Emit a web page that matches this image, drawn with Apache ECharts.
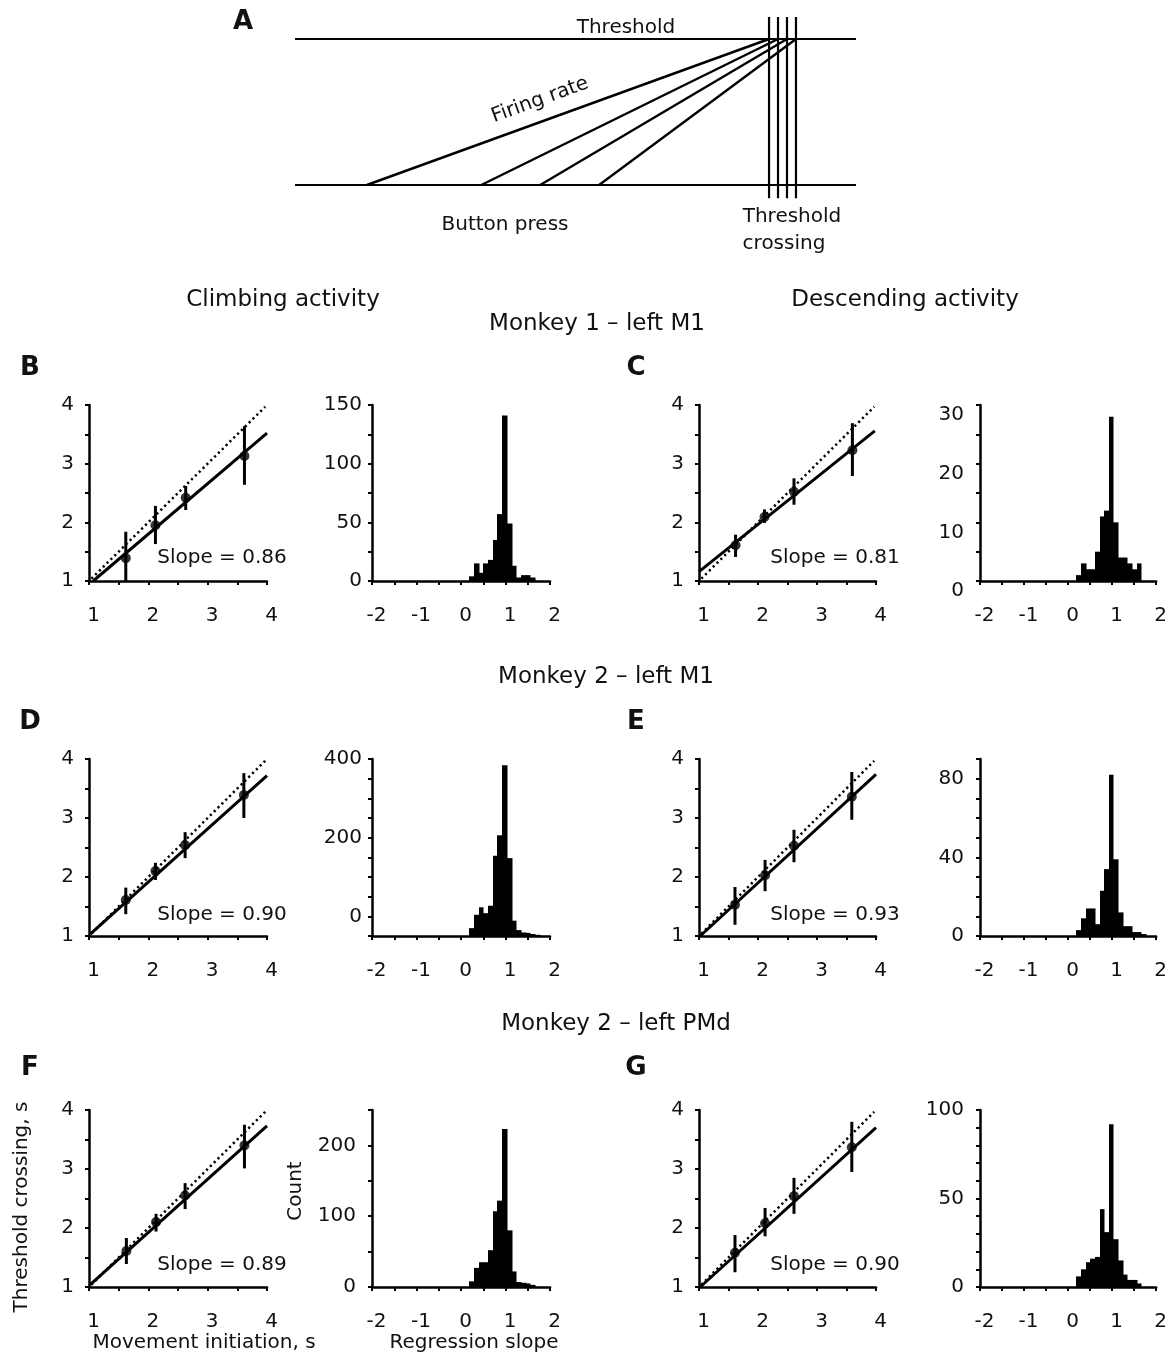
<!DOCTYPE html>
<html><head><meta charset="utf-8">
<script src="https://cdn.jsdelivr.net/npm/echarts@6/dist/echarts.min.js"></script>
<style>html,body{margin:0;padding:0;background:#fff}#chart{width:1170px;height:1355px}</style>
</head><body><div id="chart"></div>
<script>
// ---------- Panel A schematic (x: arbitrary time 0..100, y: 0 = baseline, 1 = threshold)
const schemaStartX = [12.8, 33.2, 43.7, 54.2];   // button-press onsets on baseline
const schemaCrossX = [84.5, 86.1, 87.7, 89.3];   // threshold crossings

// ---------- Scatter panels: threshold crossing (s) vs movement initiation (s)
const identityEnds = [1.04, 3.97];
const bMeanX = [1.62, 2.12, 2.63, 3.62], bMeanY = [1.39, 1.95, 2.42, 3.13];
const bErrLo = [1.00, 1.63, 2.21, 2.64], bErrHi = [1.84, 2.28, 2.62, 3.64];
const bFitX = [1.07, 4.0], bFitY = [1.00, 3.52];
const cMeanX = [1.62, 2.11, 2.61, 3.60], cMeanY = [1.61, 2.09, 2.52, 3.23];
const cErrLo = [1.41, 1.99, 2.30, 2.79], cErrHi = [1.79, 2.22, 2.75, 3.69];
const cFitX = [1.0, 3.98], cFitY = [1.16, 3.56];
const dMeanX = [1.62, 2.12, 2.62, 3.61], dMeanY = [1.61, 2.10, 2.54, 3.39];
const dErrLo = [1.37, 1.95, 2.32, 3.00], dErrHi = [1.82, 2.24, 2.76, 3.76];
const dFitX = [1.02, 4.0], dFitY = [1.03, 3.72];
const eMeanX = [1.61, 2.12, 2.61, 3.59], eMeanY = [1.53, 2.03, 2.53, 3.36];
const eErrLo = [1.19, 1.76, 2.25, 2.97], eErrHi = [1.83, 2.29, 2.80, 3.78];
const eFitX = [1.02, 4.0], eFitY = [1.00, 3.74];
const fMeanX = [1.63, 2.13, 2.62, 3.62], fMeanY = [1.61, 2.10, 2.55, 3.40];
const fErrLo = [1.39, 1.94, 2.32, 3.01], fErrHi = [1.83, 2.24, 2.76, 3.75];
const fFitX = [1.02, 4.0], fFitY = [1.04, 3.73];
const gMeanX = [1.61, 2.12, 2.61, 3.59], gMeanY = [1.58, 2.08, 2.54, 3.37];
const gErrLo = [1.25, 1.86, 2.24, 2.95], gErrHi = [1.88, 2.34, 2.85, 3.80];
const gFitX = [1.02, 4.0], gFitY = [1.00, 3.70];
const slopeLabels = ['0.86', '0.81', '0.90', '0.93', '0.89', '0.90'];

// ---------- Histograms of regression slopes (bin left edges)
const binStart = [0.19, 0.295, 0.40, 0.505, 0.61, 0.715, 0.82, 0.925, 1.03, 1.135, 1.24, 1.345, 1.45, 1.555, 1.66];
const binWidth = 0.105;
const bCounts = [4, 15, 7, 15, 18, 35, 57, 141, 49, 13, 3, 5, 5, 3, 0];
const cCounts = [1, 3, 2, 2, 5, 11, 12, 28, 10, 4, 4, 3, 2, 3, 0];
// panel D: bar heights above the drawn baseline (the original's count labels sit one tick (50) higher)
const dHeights = [20, 54, 73, 58, 77, 204, 256, 434, 198, 39, 15, 9, 8, 5, 3];
const dLabelOffset = 50;
const eCounts = [3, 9, 14, 14, 6, 23, 34, 82, 39, 12, 5, 5, 2, 2, 1];
const fCounts = [8, 27, 35, 35, 52, 107, 122, 223, 80, 22, 7, 6, 5, 3, 0];
const gCounts = [6, 10, 14, 16, 17, 44, 31, 92, 27, 15, 7, 4, 4, 2, 0];

const FONT = 'DejaVu Sans';
const BLACK = '#000';

const grids = [], xAxes = [], yAxes = [], series = [];

// ---- Panel A grid
grids.push({left: 295, top: 9.8, width: 561, height: 204.4});
xAxes.push({gridIndex: 0, type: 'value', show: false, min: 0, max: 100});
yAxes.push({gridIndex: 0, type: 'value', show: false, min: -0.2, max: 1.2});
function seg(gi, p, q, w) {
  series.push({type: 'line', xAxisIndex: gi, yAxisIndex: gi, data: [p, q], symbol: 'none',
    lineStyle: {color: BLACK, width: w || 2.2}, silent: true, clip: false});
}
seg(0, [0, 1], [100, 1]);
seg(0, [0, 0], [100, 0]);
schemaCrossX.forEach(x => seg(0, [x, -0.09], [x, 1.15]));
schemaStartX.forEach((x, i) => seg(0, [x, 0], [schemaCrossX[i], 1], 2.4));

function axisLine() { return {show: true, onZero: false, lineStyle: {color: BLACK, width: 2.5}}; }
function axisTick() { return {show: true, length: 4, lineStyle: {color: BLACK, width: 2}}; }
const intOnly = v => (Math.abs(v - Math.round(v)) < 1e-9 ? String(Math.round(v)) : '');

const rowTop = [405, 759, 1110];
const rowH = [176, 177, 177];
const colScatter = [{left: 89, width: 178}, {left: 699, width: 177}];
const colHist = [{left: 372, width: 178}, {left: 980, width: 179}];

function addScatter(row, col, mx, my, lo, hi, fx, fy) {
  const gi = grids.length;
  grids.push({left: colScatter[col].left, top: rowTop[row], width: colScatter[col].width, height: rowH[row]});
  const lab = {color: '#111', fontSize: 20, fontFamily: FONT, formatter: intOnly};
  xAxes.push({gridIndex: gi, type: 'value', min: 1, max: 4, interval: 0.5, axisLine: axisLine(), axisTick: axisTick(),
    splitLine: {show: false}, axisLabel: Object.assign({margin: 25, padding: [0, 0, 0, 9]}, lab)});
  yAxes.push({gridIndex: gi, type: 'value', min: 1, max: 4, interval: 0.5, axisLine: axisLine(), axisTick: axisTick(),
    splitLine: {show: false}, axisLabel: Object.assign({margin: 15, padding: [4, 0, 0, 0]}, lab)});
  series.push({type: 'line', xAxisIndex: gi, yAxisIndex: gi, symbol: 'none', silent: true,
    data: [[identityEnds[0], identityEnds[0]], [identityEnds[1], identityEnds[1]]],
    lineStyle: {color: BLACK, width: 2.5, type: [2.2, 3.2]}});
  series.push({type: 'line', xAxisIndex: gi, yAxisIndex: gi, symbol: 'none', silent: true,
    data: fx.map((x, i) => [x, fy[i]]), lineStyle: {color: BLACK, width: 3}});
  series.push({type: 'custom', xAxisIndex: gi, yAxisIndex: gi, silent: true,
    data: mx.map((x, i) => [x, lo[i], hi[i]]), encode: {x: 0, y: [1, 2]},
    renderItem: (params, api) => {
      const a = api.coord([api.value(0), api.value(1)]);
      const b = api.coord([api.value(0), api.value(2)]);
      return {type: 'line', shape: {x1: a[0], y1: a[1], x2: b[0], y2: b[1]}, style: {stroke: BLACK, lineWidth: 3}};
    }});
  series.push({type: 'scatter', xAxisIndex: gi, yAxisIndex: gi, symbol: 'circle', symbolSize: 10, silent: true,
    data: mx.map((x, i) => [x, my[i]]), itemStyle: {color: BLACK}});
}

function addHist(row, col, counts, yMax, yInterval, labelFn, labelMargin, extraLabel) {
  const gi = grids.length;
  grids.push({left: colHist[col].left, top: rowTop[row], width: colHist[col].width, height: rowH[row]});
  xAxes.push({gridIndex: gi, type: 'value', min: -2, max: 2, interval: 0.5, axisLine: axisLine(), axisTick: axisTick(),
    splitLine: {show: false},
    axisLabel: {color: '#111', fontSize: 20, fontFamily: FONT, margin: 25, padding: [0, 0, 0, 9], formatter: intOnly}});
  yAxes.push({gridIndex: gi, type: 'value', min: 0, max: yMax, interval: yInterval, axisLine: axisLine(), axisTick: axisTick(),
    splitLine: {show: false},
    axisLabel: Object.assign({color: '#111', fontSize: 20, fontFamily: FONT, margin: labelMargin, formatter: labelFn}, extraLabel || {})});
  series.push({type: 'custom', xAxisIndex: gi, yAxisIndex: gi, silent: true,
    data: binStart.map((b, i) => [b, counts[i]]), encode: {x: 0, y: 1},
    renderItem: (params, api) => {
      const x0 = api.value(0), c = api.value(1);
      const p0 = api.coord([x0, 0]);
      const p1 = api.coord([x0 + binWidth, c]);
      const left = Math.round(p0[0]), right = Math.round(p1[0]);
      return {type: 'rect', shape: {x: left, y: p1[1], width: right - left + 0.5, height: p0[1] - p1[1]},
        style: {fill: BLACK}};
    }});
}
const every = n => v => (Math.round(v) % n === 0 ? String(Math.round(v)) : '');

// Row 1 (Monkey 1 - left M1)
addScatter(0, 0, bMeanX, bMeanY, bErrLo, bErrHi, bFitX, bFitY);
addHist(0, 0, bCounts, 150, 25, every(50), 10);
addScatter(0, 1, cMeanX, cMeanY, cErrLo, cErrHi, cFitX, cFitY);
addHist(0, 1, cCounts, 30, 5, every(10), 16, {verticalAlign: 'top'});
// Row 2 (Monkey 2 - left M1)
addScatter(1, 0, dMeanX, dMeanY, dErrLo, dErrHi, dFitX, dFitY);
addHist(1, 0, dHeights, 450, 50, v => {
  const lv = Math.round(v) - dLabelOffset;
  return (lv >= 0 && lv % 200 === 0) ? String(lv) : '';
}, 10);
addScatter(1, 1, eMeanX, eMeanY, eErrLo, eErrHi, eFitX, eFitY);
addHist(1, 1, eCounts, 90, 10, every(40), 16, {padding: [8, 0, 0, 0]});
// Row 3 (Monkey 2 - left PMd)
addScatter(2, 0, fMeanX, fMeanY, fErrLo, fErrHi, fFitX, fFitY);
addHist(2, 0, fCounts, 250, 50, every(100), 16);
addScatter(2, 1, gMeanX, gMeanY, gErrLo, gErrHi, gFitX, gFitY);
addHist(2, 1, gCounts, 100, 10, every(50), 16);

// ---------- Texts
function txt(s, x, y, size, opts) {
  opts = opts || {};
  return {type: 'text', x: x, y: y, rotation: opts.rot || 0, silent: true, z: 100,
    style: {text: s, fontSize: size, fontFamily: FONT, fontWeight: opts.bold ? 'bold' : 'normal', fill: '#111',
      align: 'center', verticalAlign: 'middle', textAlign: 'center', textVerticalAlign: 'middle'}};
}
const graphics = [
  txt('A', 243, 22, 26, {bold: true}),
  txt('Threshold', 626, 28, 20),
  txt('Firing rate', 540, 100, 20, {rot: 20 * Math.PI / 180}),
  txt('Button press', 505, 225, 20),
  txt('Threshold', 792, 217, 20),
  txt('crossing', 784, 244, 20),
  txt('Climbing activity', 283, 300, 23),
  txt('Descending activity', 905, 300, 23),
  txt('Monkey 1 \u2013 left M1', 597, 324, 23),
  txt('Monkey 2 \u2013 left M1', 606, 677, 23),
  txt('Monkey 2 \u2013 left PMd', 616, 1024, 23),
  txt('B', 30, 368, 26, {bold: true}), txt('C', 636, 368, 26, {bold: true}),
  txt('D', 30, 722, 26, {bold: true}), txt('E', 636, 722, 26, {bold: true}),
  txt('F', 30, 1068, 26, {bold: true}), txt('G', 636, 1068, 26, {bold: true}),
  txt('Slope = ' + slopeLabels[0], 222, 558, 20), txt('Slope = ' + slopeLabels[1], 835, 558, 20),
  txt('Slope = ' + slopeLabels[2], 222, 915, 20), txt('Slope = ' + slopeLabels[3], 835, 915, 20),
  txt('Slope = ' + slopeLabels[4], 222, 1265, 20), txt('Slope = ' + slopeLabels[5], 835, 1265, 20),
  txt('Threshold crossing, s', 22, 1207, 20, {rot: Math.PI / 2}),
  txt('Count', 296, 1191, 20, {rot: Math.PI / 2}),
  txt('Movement initiation, s', 204, 1343, 20),
  txt('Regression slope', 474, 1343, 20)
];

const chart = echarts.init(document.getElementById('chart'), null, {renderer: 'canvas'});
chart.setOption({
  backgroundColor: '#fff',
  animation: false,
  grid: grids,
  xAxis: xAxes,
  yAxis: yAxes,
  series: series,
  graphic: graphics
});
</script>
</body></html>
